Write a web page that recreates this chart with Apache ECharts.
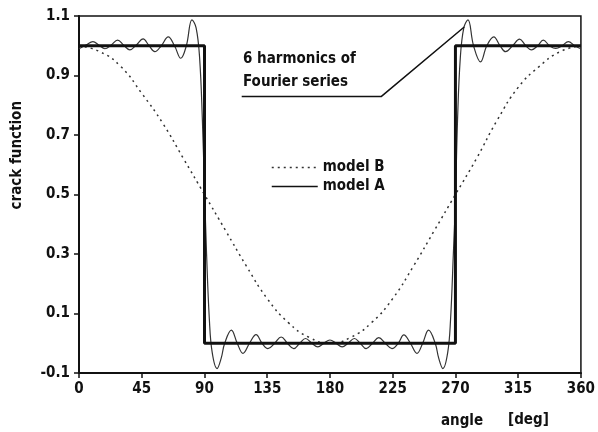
<!DOCTYPE html>
<html>
<head>
<meta charset="utf-8">
<script src="https://cdn.jsdelivr.net/npm/echarts@6/dist/echarts.min.js"></script>
<style>
  html, body { margin: 0; padding: 0; background: #fff; }
  #chart { width: 598px; height: 432px; }
</style>
</head>
<body>
<div id="chart"></div>
<script>
// angle ticks / y ticks
var xTicks = { min: 0, max: 360, step: 45 };
var yTicks = { min: -0.1, max: 1.1, step: 0.2 };

// model A: the step (crack open between 90 and 270 deg)
var modelAAngles = [0, 90, 90, 270, 270, 360];
var modelAValues = [1, 1, 0, 0, 1, 1];

// model B: smooth cosine-like curve
var modelBAngles = [0, 15, 30, 45, 60, 75, 90, 105, 120, 135, 150, 165, 180,
                    195, 210, 225, 240, 255, 270, 285, 300, 315, 330, 345, 360];
var modelBValues = [1.0, 0.98, 0.93, 0.84, 0.74, 0.62, 0.5, 0.38, 0.26, 0.15, 0.07, 0.02, 0.0,
                    0.02, 0.07, 0.15, 0.26, 0.38, 0.5, 0.62, 0.75, 0.86, 0.93, 0.98, 1.0];

// truncated Fourier series of model A (Gibbs ripples)
var fourierAngles = [0, 5, 10, 14.3, 18.6, 23, 27.7, 32, 36.5, 41, 46, 50, 54.4, 59, 64, 68.5, 73, 77,
  81, 84, 86.5, 88.5, 90, 91.5, 93.5, 95.5, 99, 102, 104.5, 109.3, 113.5, 117.6, 122.3, 127, 131.3,
  135.5, 140.3, 145, 149.5, 154, 158.3, 162.5, 167, 171.3, 175.6, 180, 184.4, 188.7, 193, 197.5,
  201.7, 206, 210.5, 215, 219.7, 224.5, 229, 233, 237.7, 242.4, 246.5, 250.7, 255.5, 258, 261,
  264.5, 266.5, 268.5, 270, 271.5, 273.5, 276, 279, 283, 288, 292.5, 297.5, 302, 306, 311, 316,
  320.5, 324.5, 329, 333, 337.5, 342, 346.5, 351, 355.5, 360];
var fourierValues = [0.99, 1.002, 1.014, 1.002, 0.99, 1.002, 1.019, 1.002, 0.986, 1.002, 1.023, 1.002, 0.98, 1.0, 1.03, 1.0, 0.958, 1.0,
  1.087, 1.06, 0.96, 0.75, 0.52, 0.3, 0.08, -0.03, -0.085, -0.05, 0.0, 0.044, 0.0, -0.034, 0.0, 0.029, 0.0,
  -0.018, 0.0, 0.021, 0.0, -0.018, 0.0, 0.016, 0.0, -0.012, 0.0, 0.011, 0.0, -0.012, 0.0, 0.016,
  0.0, -0.018, 0.0, 0.019, 0.0, -0.018, 0.0, 0.028, 0.0, -0.034, 0.0, 0.044, 0.0, -0.05, -0.085,
  -0.03, 0.08, 0.3, 0.48, 0.75, 0.96, 1.06, 1.087, 1.0, 0.946, 1.0, 1.03, 1.0, 0.98, 1.0, 1.022,
  1.0, 0.986, 1.0, 1.019, 1.0, 0.991, 1.0, 1.014, 1.0, 0.99];

// leader line from the "6 harmonics" note to the overshoot
var leaderAngles = [116.7, 216.7, 276.3];
var leaderValues = [0.829, 0.829, 1.063];

var zip = function (xs, ys) { return xs.map(function (x, i) { return [x, ys[i]]; }); };

var FONT = "'DejaVu Sans Condensed', 'DejaVu Sans', sans-serif";
var INK = '#111';

var chart = echarts.init(document.getElementById('chart'), null, { renderer: 'canvas' });

var option = {
  animation: false,
  backgroundColor: '#fff',
  color: [INK],
  grid: {
    left: 79, right: 16, top: 16, bottom: 59,
    show: true, borderColor: INK, borderWidth: 1.5
  },
  xAxis: {
    type: 'value',
    min: xTicks.min, max: xTicks.max, interval: xTicks.step,
    axisLine: { show: true, onZero: false, lineStyle: { color: INK, width: 2 } },
    axisTick: { show: true, length: 5, lineStyle: { color: INK, width: 1.5 } },
    axisLabel: { color: INK, fontFamily: FONT, fontSize: 15, fontWeight: 'bold', margin: 9 },
    splitLine: { show: false }
  },
  yAxis: {
    type: 'value',
    min: yTicks.min, max: yTicks.max, interval: yTicks.step,
    axisLine: { show: true, onZero: false, lineStyle: { color: INK, width: 2 } },
    axisTick: { show: true, length: 5, lineStyle: { color: INK, width: 1.5 } },
    axisLabel: {
      color: INK, fontFamily: FONT, fontSize: 15, fontWeight: 'bold', margin: 9,
      formatter: function (v) { return v.toFixed(1); }
    },
    splitLine: { show: false }
  },
  legend: {
    orient: 'vertical',
    left: 266, top: 155,
    itemWidth: 46, itemHeight: 12, itemGap: 4,
    data: ['model B', 'model A'],
    itemStyle: { opacity: 0 },
    lineStyle: { width: 1.5 },
    textStyle: { color: INK, fontFamily: FONT, fontSize: 15, fontWeight: 'bold' }
  },
  graphic: [
    { type: 'text', left: 243, top: 52,
      style: { text: '6 harmonics of', fill: INK, font: 'bold 15px ' + FONT } },
    { type: 'text', left: 243, top: 75,
      style: { text: 'Fourier series', fill: INK, font: 'bold 15px ' + FONT } },
    { type: 'text', left: 10, top: 101, rotation: Math.PI / 2, originX: 0, originY: 0,
      style: { text: 'crack function', fill: INK, font: 'bold 15px ' + FONT,
               textAlign: 'center', textVerticalAlign: 'middle' } },
    { type: 'text', left: 441, top: 414,
      style: { text: 'angle', fill: INK, font: 'bold 15px ' + FONT } },
    { type: 'text', left: 508, top: 413,
      style: { text: '[deg]', fill: INK, font: 'bold 15px ' + FONT } }
  ],
  series: [
    {
      name: 'model B', type: 'line', symbol: 'none',
      data: zip(modelBAngles, modelBValues), smooth: 0.5,
      itemStyle: { color: '#333' },
      lineStyle: { color: '#333', width: 1.5, type: [2, 4] }, z: 2
    },
    {
      name: 'fourier', type: 'line', symbol: 'none',
      data: zip(fourierAngles, fourierValues), smooth: 0.4,
      lineStyle: { color: '#333', width: 1.2 }, z: 3
    },
    {
      name: 'model A', type: 'line', symbol: 'none',
      data: zip(modelAAngles, modelAValues),
      itemStyle: { color: INK },
      lineStyle: { color: INK, width: 3 }, z: 4
    },
    {
      name: 'leader', type: 'line', symbol: 'none', silent: true,
      data: zip(leaderAngles, leaderValues),
      lineStyle: { color: INK, width: 1.5 }, z: 4
    }
  ]
};

chart.setOption(option);
</script>
</body>
</html>
